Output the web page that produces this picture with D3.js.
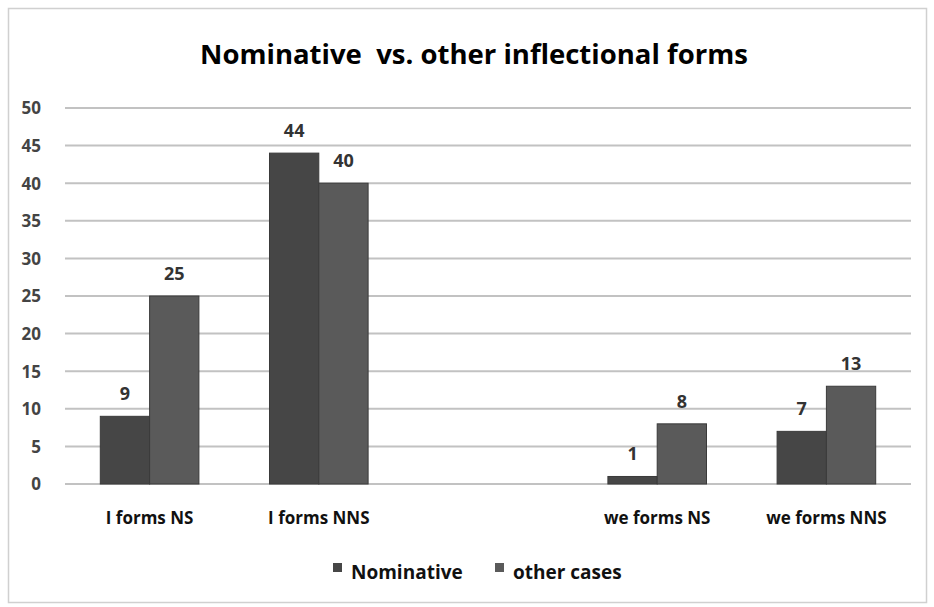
<!DOCTYPE html>
<html><head><meta charset="utf-8">
<script src="https://cdn.jsdelivr.net/npm/d3@7"></script>
<style>body{margin:0;background:#fff}svg{display:block}</style>
</head><body>
<svg id="c" width="934" height="607"></svg>
<script>
const categories = ["I forms NS", "I forms NNS", "", "we forms NS", "we forms NNS"];
const seriesNames = ["Nominative", "other cases"];
const nominative = [9, 44, null, 1, 7];
const otherCases = [25, 40, null, 8, 13];
const yTicks = [0, 5, 10, 15, 20, 25, 30, 35, 40, 45, 50];
const title = "Nominative  vs. other inflectional forms";

const colors = ["#464646", "#5a5a5a"];
const svg = d3.select("#c");
const font = "'Open Sans', 'DejaVu Sans', sans-serif";

// frame
svg.append("rect").attr("x", 8.5).attr("y", 8.5).attr("width", 918).attr("height", 594)
  .attr("fill", "#fff").attr("stroke", "#d0d0d0").attr("stroke-width", 1.5);

const x0 = d3.scaleBand().domain(d3.range(categories.length)).range([65, 911]).paddingInner(0).paddingOuter(0);
const x1 = d3.scaleBand().domain([0, 1]).range([0, x0.bandwidth()]).paddingOuter(0.716).paddingInner(0);
const y = d3.scaleLinear().domain([0, 50]).range([484, 108]);

// gridlines
svg.append("g").selectAll("line").data(yTicks).join("line")
  .attr("x1", 65).attr("x2", 911)
  .attr("y1", d => y(d)).attr("y2", d => y(d))
  .attr("stroke", "#c2c2c2").attr("stroke-width", 2);

// y axis labels
const yAxis = d3.axisLeft(y).tickValues(yTicks).tickSize(0).tickPadding(0);
const gy = svg.append("g").attr("transform", "translate(41,0)").call(yAxis);
gy.select(".domain").remove();
gy.selectAll("text").attr("font-family", font).attr("font-weight", "bold")
  .attr("font-size", 17).attr("fill", "#444").attr("dy", "0.35em");

// bars
const series = [nominative, otherCases];
series.forEach((vals, si) => {
  const g = svg.append("g");
  vals.forEach((v, ci) => {
    if (v == null) return;
    const bx = x0(ci) + x1(si);
    g.append("rect").attr("x", bx).attr("y", y(v)).attr("width", x1.bandwidth())
      .attr("height", y(0) - y(v)).attr("fill", colors[si])
      .attr("stroke", "#3a3a3a").attr("stroke-width", 1);
    g.append("text").attr("x", bx + x1.bandwidth() / 2).attr("y", y(v) - 16)
      .attr("text-anchor", "middle").attr("font-family", font).attr("font-weight", "bold")
      .attr("font-size", 18).attr("fill", "#333").text(v);
  });
});

// x axis labels
const xAxis = d3.axisBottom(x0).tickSize(0).tickPadding(0).tickFormat(i => categories[i]);
const gx = svg.append("g").attr("transform", "translate(0,484)").call(xAxis);
gx.select(".domain").remove();
gx.selectAll("text").attr("font-family", font).attr("font-weight", "bold")
  .attr("font-size", 17).attr("fill", "#111").attr("dy", 0).attr("y", 40);

// title
const t = svg.append("text").attr("x", 474).attr("y", 64).attr("text-anchor", "middle")
  .attr("font-family", font).attr("font-weight", "bold").attr("font-size", 26)
  .attr("fill", "#000").style("white-space", "pre").text(title);
const tw = t.node().getComputedTextLength();
t.attr("font-size", 26 * 548 / tw);

// legend
const legX = [333, 495];
seriesNames.forEach((n, i) => {
  svg.append("rect").attr("x", legX[i]).attr("y", 563).attr("width", 9).attr("height", 9)
    .attr("fill", colors[i]);
  svg.append("text").attr("x", legX[i] + 18).attr("y", 579).attr("font-family", font)
    .attr("font-weight", "bold").attr("font-size", 19).attr("fill", "#111").text(n);
});
</script>
</body></html>
